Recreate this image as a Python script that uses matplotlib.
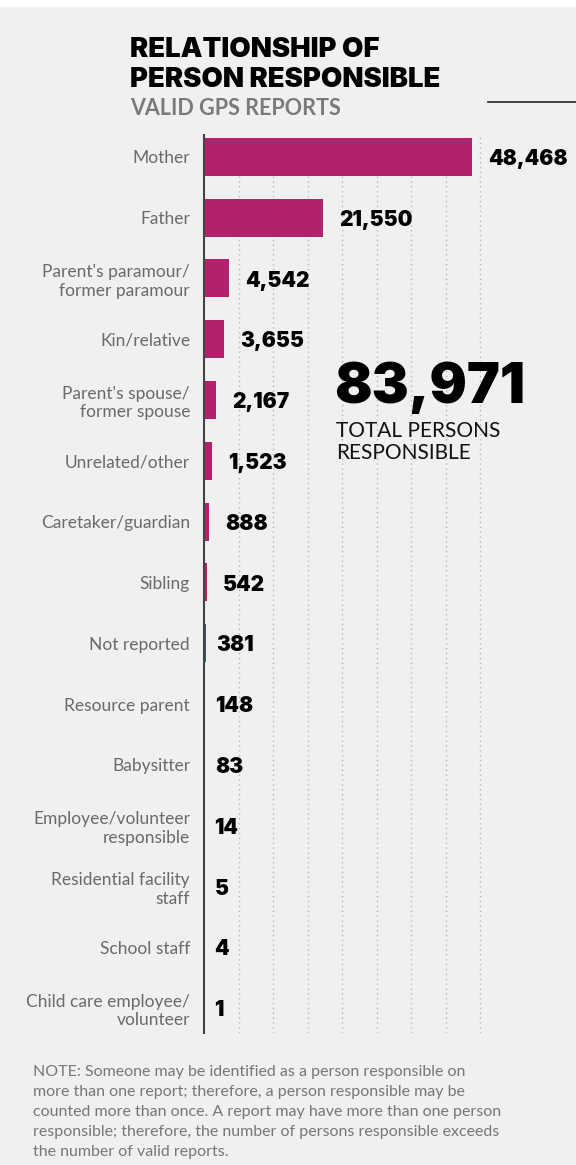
import matplotlib
matplotlib.use("Agg")
import matplotlib.pyplot as plt
from matplotlib.patches import Rectangle
from matplotlib.lines import Line2D

# -----------------------------
# DATA
# -----------------------------
categories = [
    "Mother",
    "Father",
    "Parent's paramour/\nformer paramour",
    "Kin/relative",
    "Parent's spouse/\nformer spouse",
    "Unrelated/other",
    "Caretaker/guardian",
    "Sibling",
    "Not reported",
    "Resource parent",
    "Babysitter",
    "Employee/volunteer\nresponsible",
    "Residential facility\nstaff",
    "School staff",
    "Child care employee/\nvolunteer",
]
counts = [48468, 21550, 4542, 3655, 2167, 1523, 888, 542, 381, 148, 83, 14, 5, 4, 1]
grid_ticks = [6250, 12500, 18750, 25000, 31250, 37500, 43750, 50000]
total_persons = 83971

BAR = "#b2226c"
BG = "#f0f0f0"
LABEL_GRAY = "#6a6a6a"
NOTE_GRAY = "#777777"
FONT = "Lato"
HEAVY = "Inter"

W, H = 576, 1165
fig = plt.figure(figsize=(W / 100, H / 100), dpi=100, facecolor=BG)

# white strip at the very top
fig.patches.append(Rectangle((0, 1 - 7 / H), 1, 7 / H, transform=fig.transFigure,
                             facecolor="white", edgecolor="none", zorder=0))

ax_left, ax_top, ax_bottom = 204, 135, 1033
ax = fig.add_axes([ax_left / W, 1 - ax_bottom / H, (W - ax_left) / W, (ax_bottom - ax_top) / H])
ax.set_facecolor(BG)

pos = list(range(len(categories)))
ax.barh(pos, counts, height=0.625, color=BAR, zorder=3)

ax.set_xlim(0, 67280)
ax.set_ylim(14.41, -0.36)

for g in grid_ticks:
    ax.axvline(g, color="#b8b8b8", lw=1, ls=(0, (1, 2.5)), zorder=1)

for s in ["top", "right", "bottom"]:
    ax.spines[s].set_visible(False)
ax.spines["left"].set_color("#444444")
ax.spines["left"].set_linewidth(1.5)
ax.spines["left"].set_zorder(4)

ax.set_xticks([])
ax.set_yticks(pos)
ax.set_yticklabels(categories, fontsize=12.5, color=LABEL_GRAY, family=FONT,
                   linespacing=1.22)
ax.tick_params(axis="y", length=0, pad=10)

for i, v in enumerate(counts):
    off = 11.5 if v > 500 else 7.5
    ax.annotate(f"{v:,}", xy=(v, i), xytext=(off, -1.5), textcoords="offset points",
                va="center", ha="left", fontsize=15, fontweight=900,
                family=HEAVY, color="black")

# titles
fig.text(130 / W, 1 - 57 / H, "RELATIONSHIP OF", fontsize=19.8, fontweight=900,
         family=HEAVY, color="black", va="baseline")
fig.text(130 / W, 1 - 87 / H, "PERSON RESPONSIBLE", fontsize=19.8, fontweight=900,
         family=HEAVY, color="black", va="baseline")
fig.text(130 / W, 1 - 115 / H, "VALID GPS REPORTS", fontsize=15.5, fontweight="bold",
         family=FONT, color="#7a7a7a", va="baseline")

fig.lines.append(Line2D([488 / W, 1], [1 - 102 / H] * 2, transform=fig.transFigure,
                        color="#222222", lw=1.2))

# big total callout
fig.text(334 / W, 1 - 403 / H, f"{total_persons:,}", fontsize=40, fontweight=900,
         family=HEAVY, color="black", va="baseline")
fig.text(336 / W, 1 - 437 / H, "TOTAL PERSONS", fontsize=15, family=FONT,
         color="#111111", va="baseline")
fig.text(336 / W, 1 - 459 / H, "RESPONSIBLE", fontsize=15, family=FONT,
         color="#111111", va="baseline")

note = ("NOTE: Someone may be identified as a person responsible on\n"
        "more than one report; therefore, a person responsible may be\n"
        "counted more than once. A report may have more than one person\n"
        "responsible; therefore, the number of persons responsible exceeds\n"
        "the number of valid reports.")
fig.text(33 / W, 1 - 1065 / H, note, fontsize=11.5, family=FONT, color=NOTE_GRAY,
         va="top", linespacing=1.55)

fig.savefig("out.png", dpi=100, facecolor=BG)
